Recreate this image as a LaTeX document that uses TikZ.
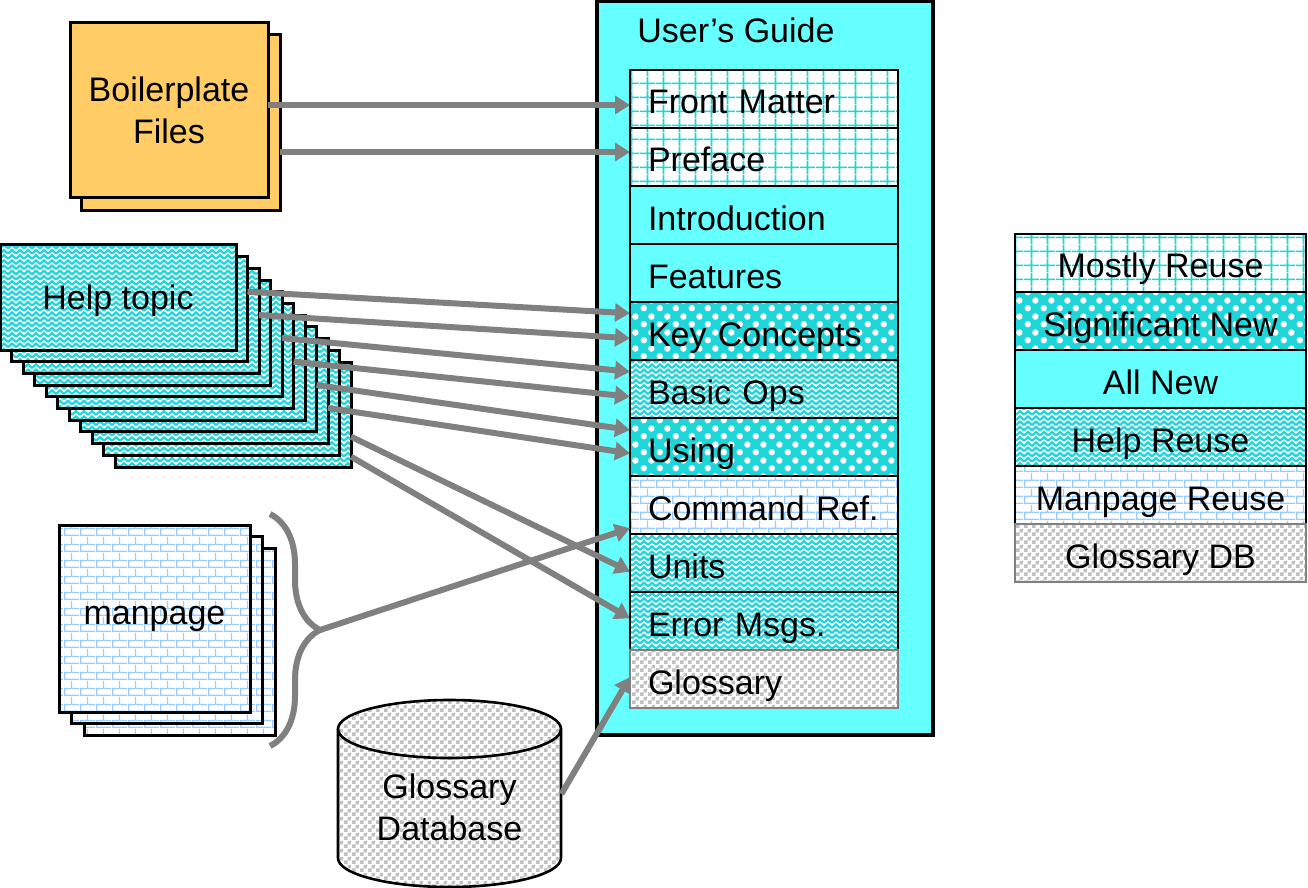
\documentclass[tikz,border=0pt]{standalone}
\usepackage{fontspec}
\setmainfont{Liberation Sans}
\usetikzlibrary{arrows.meta,patterns.meta,decorations.pathreplacing}

\definecolor{guidecyan}{RGB}{102,255,255}
\definecolor{patcyan}{RGB}{28,214,218}
\definecolor{brickblue}{RGB}{153,204,255}
\definecolor{checkgray}{RGB}{192,192,192}
\definecolor{filegold}{RGB}{255,204,102}
\definecolor{arrowgray}{RGB}{128,128,128}

\tikzdeclarepattern{name=reusegrid, type=uncolored,
  bounding box={(0pt,0pt) and (8pt,7pt)}, tile size={(8pt,7pt)},
  code={\draw[line width=0.9pt] (0pt,3.5pt) -- (8pt,3.5pt) (4pt,0pt) -- (4pt,7pt);}}
\tikzdeclarepattern{name=sigdots, type=uncolored,
  bounding box={(0pt,0pt) and (8pt,8pt)}, tile size={(8pt,8pt)},
  code={\fill (2pt,2pt) circle[radius=1.7pt] (6pt,6pt) circle[radius=1.7pt];}}
\tikzdeclarepattern{name=helpzigzag, type=uncolored,
  bounding box={(0pt,-0.6pt) and (4pt,2.8pt)}, tile size={(4pt,2.6pt)},
  code={\draw[line width=1.1pt] (0pt,0pt) -- (2pt,1.8pt) -- (4pt,0pt);}}
\tikzdeclarepattern{name=manbricks, type=uncolored,
  bounding box={(0pt,0pt) and (8pt,8pt)}, tile size={(8pt,8pt)},
  code={\draw[line width=0.7pt] (0pt,0.35pt) -- (8pt,0.35pt) (0pt,4pt) -- (8pt,4pt) (0.35pt,0pt) -- (0.35pt,4pt) (4pt,4pt) -- (4pt,8pt);}}
\tikzdeclarepattern{name=glosscheck, type=uncolored,
  bounding box={(0pt,0pt) and (4pt,4pt)}, tile size={(4pt,4pt)},
  code={\fill (0pt,0pt) rectangle (2pt,2pt) (2pt,2pt) rectangle (4pt,4pt);}}

\begin{document}
\begin{tikzpicture}[x=0.5pt,y=-0.5pt, >={Triangle[length=7.5pt,width=9pt]},
    every node/.style={font=\fontsize{17}{21}\selectfont},
    part/.style={draw,line width=1.4pt,minimum width=134pt,minimum height=29pt,text width=116pt,inner xsep=9pt,inner ysep=0pt,outer sep=0pt,align=left,text height=15pt,text depth=0pt},
    key/.style={draw,line width=1.4pt,minimum width=145.5pt,minimum height=29pt,inner sep=0pt,outer sep=0pt,text height=15pt,text depth=0pt},
    sheet/.style={draw,line width=1.5pt,inner sep=0pt,outer sep=0pt},
    help/.style={sheet,helpfill,minimum width=118pt,minimum height=52.5pt},
    page/.style={sheet,manfill,minimum width=95.5pt,minimum height=93.5pt},
    reuse/.style={preaction={fill=white},pattern=reusegrid,pattern color=patcyan},
    signew/.style={preaction={fill=patcyan},pattern=sigdots,pattern color=white},
    allnew/.style={fill=guidecyan},
    helpfill/.style={preaction={fill=white},pattern=helpzigzag,pattern color=patcyan},
    manfill/.style={preaction={fill=white},pattern=manbricks,pattern color=brickblue},
    glossfill/.style={preaction={fill=white},pattern=glosscheck,pattern color=checkgray},
    feed/.style={->,draw=arrowgray,line width=3pt}]
    \useasboundingbox (0,0) rectangle (1308,888);

    % user's guide
    \node[draw,line width=1.6pt,fill=guidecyan,minimum width=168pt,minimum height=367pt] (ug) at (765,368) {};
    \node[anchor=base west,inner sep=0pt] (ugt) at (637,43) {User's Guide};
    \node[part,reuse] (fm) at (764,99) {Front Matter};
    \node[part,reuse] (pf) at (764,157) {Preface};
    \node[part,allnew] (intro) at (764,215) {Introduction};
    \node[part,allnew] (ft) at (764,273) {Features};
    \node[part,signew] (kc) at (764,331) {Key Concepts};
    \node[part,helpfill] (bo) at (764,389) {Basic Ops};
    \node[part,signew] (us) at (764,447) {Using};
    \node[part,manfill] (cr) at (764,505) {Command Ref.};
    \node[part,helpfill] (un) at (764,563) {Units};
    \node[part,helpfill] (em) at (764,621) {Error Msgs.};
    \node[part,glossfill,draw=arrowgray] (gl) at (764,679) {Glossary};

    % legend
    \node[key,reuse] (k1) at (1160.5,263) {Mostly Reuse};
    \node[key,signew] (k2) at (1160.5,321) {Significant New};
    \node[key,allnew] (k3) at (1160.5,379) {All New};
    \node[key,helpfill] (k4) at (1160.5,437) {Help Reuse};
    \node[key,manfill] (k5) at (1160.5,495) {Manpage Reuse};
    \node[key,glossfill,draw=arrowgray] (k6) at (1160.5,553) {Glossary DB};

    % boilerplate
    \node[sheet,fill=filegold,minimum width=99.5pt,minimum height=88pt] (bp2) at (180.5,123) {};
    \node[sheet,fill=filegold,minimum width=99pt,minimum height=87.5pt,align=center] (bp1) at (169,110.5) {Boilerplate\\Files};

    % help topics
    \node[help] (h10) at (233,414.5) {};
    \node[help] (h9) at (221.5,402.8) {};
    \node[help] (h8) at (210,391.1) {};
    \node[help] (h7) at (198.5,379.4) {};
    \node[help] (h6) at (187,367.7) {};
    \node[help] (h5) at (175.5,356) {};
    \node[help] (h4) at (164,344.3) {};
    \node[help] (h3) at (152.5,332.6) {};
    \node[help] (h2) at (141,320.9) {};
    \node[help] (h1) at (129.5,309.2) {};
    \node[help,text depth=0pt] (h0) at (118,297.5) {Help topic};

    % manpages
    \node[page] (m2) at (179.5,642) {};
    \node[page] (m1) at (167,630) {};
    \node[page] (m0) at (154.5,618.5) {manpage};

    % glossary database
    \draw[glossfill,line width=1.3pt] (338,729) -- (338,858) arc[start angle=180,end angle=360,x radius=55.75pt,y radius=14.5pt]
        -- (561,729) arc[start angle=0,end angle=180,x radius=55.75pt,y radius=14.5pt] -- cycle;
    \draw[line width=1.3pt] (338,729) arc[start angle=180,end angle=360,x radius=55.75pt,y radius=14.5pt];
    \node[align=center,minimum width=111.5pt,inner sep=0pt] (gdb) at (449.5,807) {Glossary\\Database};

    % brace
    \coordinate (bt1) at (270,514);
    \coordinate (bt2) at (270,746);
    \coordinate (bt) at (320,630);
    \draw[arrowgray,line width=3pt,decorate,decoration={brace,amplitude=25pt}] (bt1) -- (bt2);

    \draw[feed] ([yshift=2.75pt]bp1.east) -- ([yshift=-3pt]fm.west);
    \draw[feed] ([yshift=-14.5pt]bp2.east) -- ([yshift=2.5pt]pf.west);
    \draw[feed] ([yshift=8.75pt]h1.east) -- ([yshift=8.85pt]kc.west);
    \draw[feed] ([yshift=2.95pt]h2.east) -- ([yshift=-3.65pt]kc.west);
    \draw[feed] ([yshift=3.15pt]h4.east) -- ([yshift=8.65pt]bo.west);
    \draw[feed] ([yshift=-2.85pt]h5.east) -- ([yshift=-3.85pt]bo.west);
    \draw[feed] ([yshift=-2.8pt]h7.east) -- ([yshift=8.5pt]us.west);
    \draw[feed] ([yshift=-8.45pt]h8.east) -- ([yshift=-3.2pt]us.west);
    \draw[feed] ([yshift=-11.1pt]h10.east) -- ([yshift=-4.35pt]un.west);
    \draw[feed] ([yshift=-21.1pt]h10.east) -- ([yshift=1.35pt]em.west);
    \draw[feed] (bt) -- ([yshift=-11.6pt]cr.west);
    \draw[feed] ([yshift=6.5pt]gdb.east) -- ([yshift=1pt]gl.west);
\end{tikzpicture}
\end{document}
